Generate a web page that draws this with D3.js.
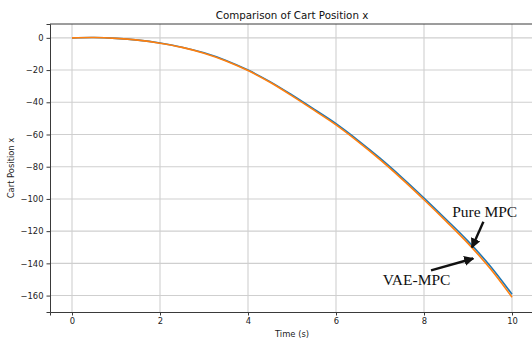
<!DOCTYPE html>
<html>
<head>
<meta charset="utf-8">
<script src="https://cdn.jsdelivr.net/npm/d3@7"></script>
<style>
  html, body { margin: 0; padding: 0; background: #fff; overflow: hidden; }
  svg { display: block; }
</style>
</head>
<body>
<svg id="chart" width="532" height="345"></svg>
<script>
// ---- data ----
const time = [0, 0.5, 1, 1.5, 2, 2.5, 3, 3.5, 4, 4.5, 5, 5.5, 6, 6.5, 7, 7.5, 8, 8.5, 9, 9.5, 10];
const pureMPC = [0, 0.2, -0.3, -1.4, -3.2, -5.8, -9.3, -14.0, -20.0, -27.2, -35.5, -44.3, -53.3, -63.6, -74.7, -86.7, -99.4, -112.6, -126.2, -141.5, -159.2];
const vaeMPC  = [0, 0.2, -0.3, -1.4, -3.3, -5.9, -9.5, -14.3, -20.3, -27.6, -36.0, -44.9, -54.0, -64.4, -75.6, -87.7, -100.5, -113.8, -127.6, -143.1, -161.0];
const xTicks = [0, 2, 4, 6, 8, 10];
const yTicks = [0, -20, -40, -60, -80, -100, -120, -140, -160];
const xDomain = [-0.5, 10.5];
const yDomain = [-170.2, 8.6];
const annotations = [
  { label: "Pure MPC", textT: 8.64, textV: -111.3, fromT: 9.35, fromV: -114.2, toT: 9.09, toV: -130.2 },
  { label: "VAE-MPC", textT: 7.06, textV: -153.4, fromT: 8.16, fromV: -144.3, toT: 9.12, toV: -137.0 }
];

// ---- layout ----
const svg = d3.select("#chart");
const margin = { left: 50, top: 24, right: -2, bottom: 33 };
const W = 532, H = 345;
const x = d3.scaleLinear().domain(xDomain).range([margin.left, W - margin.right]);
const y = d3.scaleLinear().domain(yDomain).range([H - margin.bottom, margin.top]);

const font = "'DejaVu Sans', sans-serif";
const gridColor = "#cfcfcf";

// grid
svg.append("g").selectAll("line.gx").data(xTicks).join("line")
  .attr("x1", d => x(d)).attr("x2", d => x(d))
  .attr("y1", y.range()[1]).attr("y2", y.range()[0])
  .attr("stroke", gridColor).attr("stroke-width", 1.1);
svg.append("g").selectAll("line.gy").data(yTicks).join("line")
  .attr("x1", x.range()[0]).attr("x2", x.range()[1])
  .attr("y1", d => y(d)).attr("y2", d => y(d))
  .attr("stroke", gridColor).attr("stroke-width", 1.1);

// lines
const line = (vals) => d3.line()
  .x((d, i) => x(time[i]))
  .y(d => y(d))
  .curve(d3.curveCatmullRom)(vals);

svg.append("path").attr("d", line(pureMPC))
  .attr("fill", "none").attr("stroke", "#1f77b4").attr("stroke-width", 1.6);
svg.append("path").attr("d", line(vaeMPC))
  .attr("fill", "none").attr("stroke", "#ff7f0e").attr("stroke-width", 1.6);

// axes
const xAxis = d3.axisBottom(x).tickValues(xTicks).tickSizeOuter(0).tickSize(3.5).tickPadding(3)
  .tickFormat(d3.format("d"));
const yAxis = d3.axisLeft(y).tickValues(yTicks).tickSizeOuter(0).tickSize(3.5).tickPadding(3)
  .tickFormat(d => d < 0 ? "\u2212" + Math.abs(d) : d);

const gx = svg.append("g").attr("transform", `translate(0,${y.range()[0]})`).call(xAxis);
const gy = svg.append("g").attr("transform", `translate(${x.range()[0]},0)`).call(yAxis);
[gx, gy].forEach(g => {
  g.select(".domain").attr("stroke", "#3a3a3a").attr("stroke-width", 1);
  g.selectAll(".tick line").attr("stroke", "#3a3a3a");
  g.selectAll(".tick text").attr("fill", "#222").style("font-family", font).style("font-size", "8.4px");
});
// top spine
svg.append("line")
  .attr("x1", x.range()[0]).attr("x2", x.range()[1])
  .attr("y1", y.range()[1]).attr("y2", y.range()[1])
  .attr("stroke", "#3a3a3a").attr("stroke-width", 1);

// title and labels
const cx = (x.range()[0] + x.range()[1]) / 2;
svg.append("text").attr("x", cx).attr("y", 19).attr("text-anchor", "middle")
  .style("font-family", font).style("font-size", "10.3px").attr("fill", "#111")
  .text("Comparison of Cart Position x");
svg.append("text").attr("x", cx).attr("y", 337).attr("text-anchor", "middle")
  .style("font-family", font).style("font-size", "8.4px").attr("fill", "#222")
  .text("Time (s)");
svg.append("text")
  .attr("transform", `translate(14,${(y.range()[0] + y.range()[1]) / 2}) rotate(-90)`)
  .attr("text-anchor", "middle")
  .style("font-family", font).style("font-size", "8.4px").attr("fill", "#222")
  .text("Cart Position x");

// annotations
const defs = svg.append("defs");
defs.append("marker").attr("id", "ah").attr("viewBox", "0 0 10 10")
  .attr("refX", 9).attr("refY", 5).attr("markerWidth", 4.2).attr("markerHeight", 4.2)
  .attr("markerUnits", "strokeWidth").attr("orient", "auto")
  .append("path").attr("d", "M0,0 L10,5 L0,10 Z").attr("fill", "#111");

const ann = svg.append("g");
annotations.forEach(a => {
  ann.append("line")
    .attr("x1", x(a.fromT)).attr("y1", y(a.fromV))
    .attr("x2", x(a.toT)).attr("y2", y(a.toV))
    .attr("stroke", "#111").attr("stroke-width", 2.4)
    .attr("marker-end", "url(#ah)");
  ann.append("text").attr("x", x(a.textT)).attr("y", y(a.textV))
    .style("font-family", "'Liberation Serif', 'Times New Roman', serif")
    .style("font-size", "15.5px").attr("fill", "#111")
    .text(a.label);
});
</script>
</body>
</html>
